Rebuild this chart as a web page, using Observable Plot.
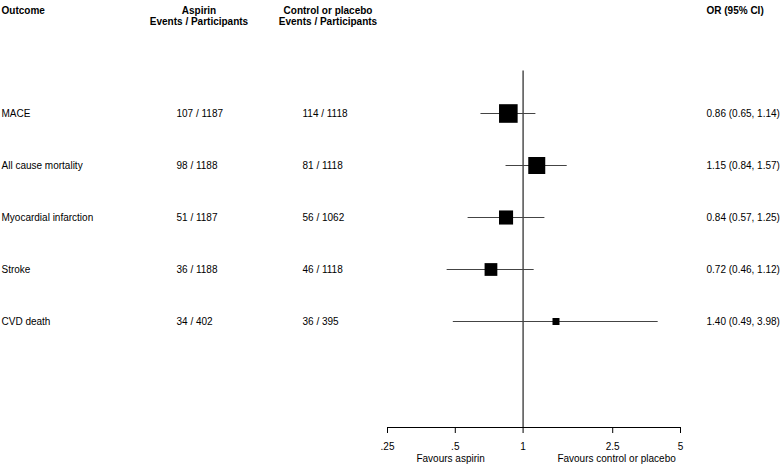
<!DOCTYPE html>
<html>
<head>
<meta charset="utf-8">
<script src="https://cdn.jsdelivr.net/npm/d3@7"></script>
<script src="https://cdn.jsdelivr.net/npm/@observablehq/plot@0.6"></script>
<style>
  html, body { margin: 0; padding: 0; background: #fff; }
</style>
</head>
<body>
<div id="chart"></div>
<script>
const outcomes = ["MACE", "All cause mortality", "Myocardial infarction", "Stroke", "CVD death"];
const aspirinEvents = [107, 98, 51, 36, 34];
const aspirinTotal = [1187, 1188, 1187, 1188, 402];
const controlEvents = [114, 81, 56, 46, 36];
const controlTotal = [1118, 1118, 1062, 1118, 395];
const oddsRatio = [0.86, 1.15, 0.84, 0.72, 1.40];
const ciLower = [0.65, 0.84, 0.57, 0.46, 0.49];
const ciUpper = [1.14, 1.57, 1.25, 1.12, 3.98];
const xTicks = [0.25, 0.5, 1, 2.5, 5];
const xTickLabels = [".25", ".5", "1", "2.5", "5"];
const nullValue = 1;
const favoursLabels = ["Favours aspirin", "Favours control or placebo"];

// inverse-variance weights (from CI width) drive marker size
const rows = outcomes.map((o, i) => {
  const se = (Math.log(ciUpper[i]) - Math.log(ciLower[i])) / 3.92;
  return {
    outcome: o,
    asp: `${aspirinEvents[i]} / ${aspirinTotal[i]}`,
    ctl: `${controlEvents[i]} / ${controlTotal[i]}`,
    or: oddsRatio[i], lo: ciLower[i], hi: ciUpper[i],
    w: 1 / (se * se),
    label: `${oddsRatio[i].toFixed(2)} (${ciLower[i].toFixed(2)}, ${ciUpper[i].toFixed(2)})`
  };
});
const maxW = d3.max(rows, d => d.w);

const bold = {fontWeight: "bold", fontSize: 10};
const frameTop = 70.5;
const chart = Plot.plot({
  width: 784,
  height: 469,
  marginLeft: 387,
  marginRight: 104,
  marginTop: frameTop,
  marginBottom: 42,
  style: {fontFamily: "'Liberation Sans', Arial, Helvetica, sans-serif", fontSize: "10px", color: "#000", background: "#fff"},
  x: {type: "log", domain: [0.25, 5]},
  y: {type: "point", domain: outcomes, range: [111.7, 322.7], padding: 0, axis: null},
  r: {domain: [0, maxW], range: [1.55, 10.5]},
  marks: [
    Plot.ruleX([nullValue], {stroke: "#333", strokeWidth: 1.3}),
    Plot.axisX({ticks: xTicks, tickFormat: d => xTickLabels[xTicks.indexOf(d)], tickSize: 6, tickPadding: 9, stroke: "#000", label: null}),
    Plot.frame({anchor: "bottom", stroke: "#000"}),
    Plot.ruleY(rows, {y: "outcome", x1: "lo", x2: "hi", stroke: "#444", strokeWidth: 1}),
    Plot.dot(rows, {x: "or", y: "outcome", r: "w", symbol: "square", fill: "#000", stroke: null}),
    // left columns
    Plot.text(rows, {y: "outcome", text: "outcome", frameAnchor: "left", dx: -386, textAnchor: "start"}),
    Plot.text(rows, {y: "outcome", text: "asp", frameAnchor: "left", dx: -211, textAnchor: "start"}),
    Plot.text(rows, {y: "outcome", text: "ctl", frameAnchor: "left", dx: -85, textAnchor: "start"}),
    // right column
    Plot.text(rows, {y: "outcome", text: "label", frameAnchor: "right", dx: 26, textAnchor: "start"}),
    // headers
    Plot.text(["Outcome"], {frameAnchor: "top-left", dx: -386, dy: 6.8 - frameTop, textAnchor: "start", ...bold}),
    Plot.text(["Aspirin"], {frameAnchor: "top-left", dx: -188.5, dy: 6.8 - frameTop, textAnchor: "middle", ...bold}),
    Plot.text(["Events / Participants"], {frameAnchor: "top-left", dx: -188.5, dy: 17.8 - frameTop, textAnchor: "middle", ...bold}),
    Plot.text(["Control or placebo"], {frameAnchor: "top-left", dx: -59.5, dy: 6.8 - frameTop, textAnchor: "middle", ...bold}),
    Plot.text(["Events / Participants"], {frameAnchor: "top-left", dx: -59.5, dy: 17.8 - frameTop, textAnchor: "middle", ...bold}),
    Plot.text(["OR (95% CI)"], {frameAnchor: "top-right", dx: 26, dy: 6.8 - frameTop, textAnchor: "start", ...bold}),
    // favours labels
    Plot.text([favoursLabels[0]], {x: () => nullValue, frameAnchor: "bottom", dx: -72.5, dy: 34.8, textAnchor: "middle"}),
    Plot.text([favoursLabels[1]], {x: () => nullValue, frameAnchor: "bottom", dx: 93.5, dy: 34.8, textAnchor: "middle"})
  ]
});
document.getElementById("chart").appendChild(chart);
</script>
</body>
</html>
